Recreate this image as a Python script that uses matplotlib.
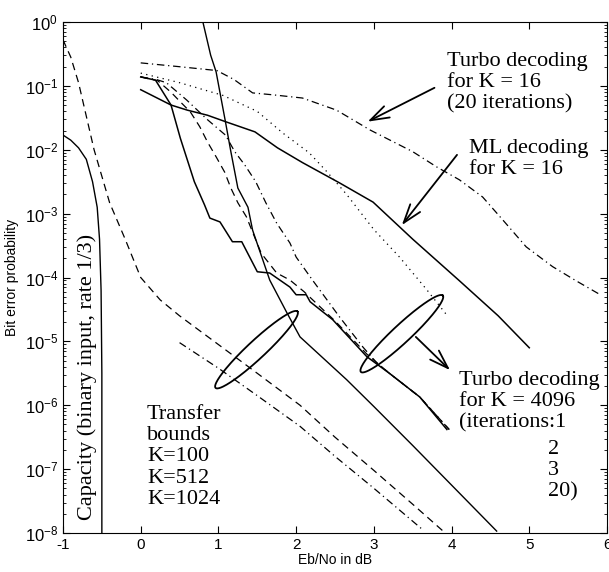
import numpy as np
import matplotlib
matplotlib.use("Agg")
import matplotlib.pyplot as plt

plt.rcParams["font.family"] = ["Liberation Sans", "DejaVu Sans"]
plt.rcParams["mathtext.default"] = "regular"
plt.rcParams["axes.unicode_minus"] = False

SERIF = ["Liberation Serif", "DejaVu Serif"]

# all curves as (Eb/No in dB, log10 of bit error probability)
capacity_x = [-1.0, -0.9, -0.8, -0.7, -0.62, -0.56, -0.53, -0.51, -0.5, -0.5]
capacity_y = [-1.77, -1.85, -1.97, -2.15, -2.5, -2.9, -3.4, -4.2, -5.5, -8.0]

bound100_x = [0.8, 0.9, 0.97, 1.09, 1.16, 1.25, 1.38, 1.44, 1.66, 1.88, 2.05, 2.65, 3.0, 3.5, 4.0, 4.58]
bound100_y = [0.0, -0.52, -0.78, -1.56, -2.03, -2.6, -2.9, -3.26, -4.04, -4.55, -4.93, -5.6, -6.02, -6.63, -7.25, -7.97]

bound512_x = [-1.0, -0.9, -0.8, -0.6, -0.4, -0.2, 0.0, 0.25, 0.5, 1.0, 1.5, 2.05, 2.5, 3.0, 3.5, 3.9]
bound512_y = [-0.28, -0.55, -0.95, -2.0, -2.83, -3.4, -4.0, -4.35, -4.6, -5.05, -5.5, -6.0, -6.5, -7.02, -7.55, -7.98]

bound1024_x = [0.5, 1.0, 1.5, 2.05, 2.5, 3.0, 3.63]
bound1024_y = [-5.02, -5.42, -5.85, -6.33, -6.8, -7.3, -7.95]

ml16_x = [0.0, 0.39, 0.6, 0.86, 1.09, 1.47, 1.76, 2.08, 2.56, 2.99, 3.5, 4.1, 4.6, 5.0]
ml16_y = [-1.06, -1.3, -1.38, -1.46, -1.56, -1.72, -1.97, -2.2, -2.52, -2.82, -3.4, -4.05, -4.6, -5.1]

turbo16_x = [0.0, 0.5, 0.98, 1.2, 1.44, 1.7, 2.08, 2.52, 2.95, 3.5, 3.81, 4.1, 4.4, 4.66, 4.96, 5.3, 5.6, 5.9]
turbo16_y = [-0.64, -0.7, -0.76, -0.9, -1.11, -1.14, -1.19, -1.38, -1.69, -2.03, -2.27, -2.47, -2.74, -3.1, -3.52, -3.83, -4.05, -4.26]

it1_x = [0.0, 0.5, 1.06, 1.5, 1.83, 2.17, 2.4, 2.65, 3.0, 3.33, 3.68, 3.94]
it1_y = [-0.8, -0.95, -1.15, -1.4, -1.74, -2.05, -2.35, -2.7, -3.25, -3.68, -4.19, -4.59]

it2_x = [0.0, 0.2, 0.33, 0.59, 0.85, 1.09, 1.21, 1.34, 1.48, 1.61, 1.75, 1.92, 2.0, 2.21, 2.56, 2.86, 3.04, 3.2, 3.59, 3.97]
it2_y = [-0.86, -0.9, -0.95, -1.22, -1.52, -1.77, -2.03, -2.24, -2.5, -2.83, -3.15, -3.46, -3.68, -4.04, -4.62, -5.09, -5.34, -5.5, -5.87, -6.38]

it3_x = [0.0, 0.22, 0.39, 0.51, 0.64, 0.76, 0.86, 0.97, 1.08, 1.16, 1.25, 1.36, 1.55, 1.75, 1.92, 2.1, 2.5, 2.91, 3.2, 3.59, 3.97]
it3_y = [-0.86, -0.92, -1.1, -1.25, -1.41, -1.64, -1.88, -2.11, -2.35, -2.6, -2.83, -3.05, -3.62, -3.93, -4.04, -4.22, -4.68, -5.2, -5.5, -5.87, -6.38]

it20_x = [0.0, 0.19, 0.39, 0.51, 0.69, 0.82, 0.89, 1.02, 1.18, 1.3, 1.5, 1.66, 1.79, 1.92, 2.0, 2.13, 2.18, 2.47, 2.91, 3.2, 3.59, 3.94]
it20_y = [-0.86, -0.91, -1.3, -1.82, -2.5, -2.86, -3.07, -3.13, -3.44, -3.44, -3.91, -3.93, -4.04, -4.15, -4.27, -4.27, -4.38, -4.66, -5.24, -5.5, -5.87, -6.38]

x_ticks = [-1, 0, 1, 2, 3, 4, 5, 6]


def draw(ax, xs, ys, **kw):
    ax.plot(xs, 10.0 ** np.asarray(ys), color="black", **kw)


def ellipse(ax, cx, cy, a_px, b_px, angle_deg):
    # ellipse drawn in display space: x linear, y log
    bbox = ax.get_window_extent()
    px_per_x = bbox.width / 7.0
    px_per_dec = bbox.height / 8.0
    t = np.linspace(0, 2 * np.pi, 200)
    th = np.deg2rad(angle_deg)
    u, v = a_px * np.cos(t), b_px * np.sin(t)
    dx = u * np.cos(th) - v * np.sin(th)
    dy = u * np.sin(th) + v * np.cos(th)
    ax.plot(cx + dx / px_per_x, 10.0 ** (cy + dy / px_per_dec), color="black", lw=1.3)


fig = plt.figure(figsize=(6.09, 5.72), dpi=100)
ax = fig.add_axes([63 / 609, 39 / 572, 544 / 609, 511 / 572])
ax.set_yscale("log")
ax.set_xlim(-1, 6)
ax.set_ylim(1e-8, 1)

draw(ax, capacity_x, capacity_y, lw=1.0)
draw(ax, bound100_x, bound100_y, lw=1.0)
draw(ax, bound512_x, bound512_y, lw=0.9, dashes=(6, 4))
draw(ax, bound1024_x, bound1024_y, lw=0.9, dashes=(6, 3, 1, 3))
draw(ax, ml16_x, ml16_y, lw=1.1)
draw(ax, turbo16_x, turbo16_y, lw=0.9, dashes=(6, 3, 1, 3))
draw(ax, it1_x, it1_y, lw=0.9, dashes=(1, 3.5))
draw(ax, it2_x, it2_y, lw=0.9, dashes=(6, 3, 1, 3))
draw(ax, it3_x, it3_y, lw=0.9, dashes=(6, 4))
draw(ax, it20_x, it20_y, lw=1.1)

ellipse(ax, 1.49, -5.13, 56, 9, 43)
ellipse(ax, 3.36, -4.88, 56, 9, 43)

arrow = dict(arrowstyle="->,head_length=0.9,head_width=0.3", lw=1.3, color="black",
             shrinkA=0, shrinkB=0, mutation_scale=15)
ax.annotate("", xy=(2.92, 10 ** -1.56), xytext=(3.78, 10 ** -1.03), arrowprops=arrow)
ax.annotate("", xy=(3.36, 10 ** -3.18), xytext=(4.07, 10 ** -2.08), arrowprops=arrow)
ax.annotate("", xy=(3.98, 10 ** -5.45), xytext=(3.54, 10 ** -4.93), arrowprops=arrow)

txt = dict(family=SERIF, fontsize=16, va="top", ha="left", linespacing=1.15)
ax.text(3.94, 10 ** -0.47, "Turbo decoding\nfor K = 16\n(20 iterations)", **txt)
ax.text(4.23, 10 ** -1.83, "ML decoding\nfor K = 16", **txt)
ax.text(4.1, 10 ** -5.47, "Turbo decoding\nfor K = 4096\n(iterations:1", **txt)
ax.text(5.24, 10 ** -6.55, "2\n3\n20)", **txt)
ax.text(0.08, 10 ** -6.0, "Transfer\nbounds\nK=100\nK=512\nK=1024", **txt)
ax.text(-0.695, 10 ** -7.79, "Capacity (binary input, rate 1/3)", family=SERIF,
        fontsize=16, rotation=90, ha="center", va="bottom")

ax.set_xticks(x_ticks)
ax.tick_params(which="both", direction="in", top=True, right=True)
ax.tick_params(axis="x", labelsize=11)
ax.tick_params(axis="y", labelsize=12)
ax.tick_params(which="major", length=5)
ax.tick_params(which="minor", length=2.5)
ax.set_xlabel("Eb/No in dB", fontsize=10, labelpad=1)
ax.set_ylabel("Bit error probability", fontsize=10, labelpad=4)

fig.savefig("out.png", dpi=100)
